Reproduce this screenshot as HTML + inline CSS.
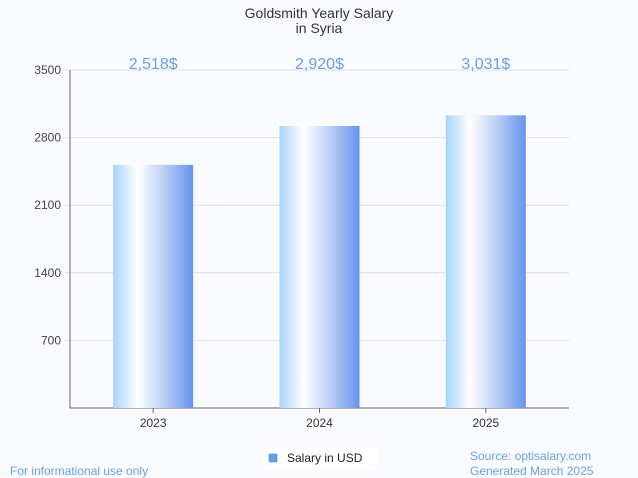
<!DOCTYPE html>
<html><head><meta charset="utf-8"><style>
body{margin:0;background:#f9fbfe;font-family:"Liberation Sans",sans-serif;}
svg{display:block}
</style></head><body>
<svg id="c" width="638" height="478">
<defs><linearGradient id="g" x1="0" x2="1" y1="0" y2="0">
<stop offset="0" stop-color="#a6d4fc"/><stop offset="0.3" stop-color="#ffffff"/><stop offset="0.6" stop-color="#c4d4f4"/><stop offset="1" stop-color="#6594ec"/></linearGradient></defs>
<text x="319" y="18" text-anchor="middle" font-size="14" fill="#333">Goldsmith Yearly Salary</text>
<text x="319" y="33" text-anchor="middle" font-size="14" fill="#333">in Syria</text>
<g id="grid"></g><g id="bars"></g>
<rect x="263" y="446" width="114" height="24" fill="#fff"/>
<rect x="269" y="454" width="8" height="8" fill="#6a9fe8" stroke="#4a78c0" stroke-width="0.5"/>
<text x="287" y="462" font-size="12" fill="#222">Salary in USD</text>
<text x="10" y="475" font-size="12" fill="#6a9fe8">For informational use only</text>
<text x="470" y="460" font-size="12" fill="#6a9fe8">Source: optisalary.com</text>
<text x="470" y="475" font-size="12" fill="#6a9fe8">Generated March 2025</text>
</svg>
<script>
const categories=["2023","2024","2025"];
const values=[2518,2920,3031];
const labels=["2,518$","2,920$","3,031$"];
const ticks=[700,1400,2100,2800,3500];
const NS="http://www.w3.org/2000/svg";
const x0=70,x1=569,yTop=70,yBot=408,maxV=3500;
const y=v=>yBot-(v/maxV)*(yBot-yTop);
const band=(x1-x0)/categories.length;
const xc=i=>x0+band*(i+0.5);
function mk(t,a,p){const e=document.createElementNS(NS,t);for(const k in a)e.setAttribute(k,a[k]);p.appendChild(e);return e;}
const grid=document.getElementById('grid'),bars=document.getElementById('bars');
ticks.forEach(t=>{
 const l=mk('line',{x1:x0-5,x2:x1,y1:y(t),y2:y(t),stroke:'#e0e0e0'},grid);
 
 
 const tx=mk('text',{x:x0-9,y:y(t)+4,'text-anchor':'end','font-size':12,fill:'#444'},grid);
 tx.textContent=t;
 
 
});
const ax=mk('path',{d:`M${x0} ${yTop}V${yBot}H${x1}`,stroke:'#666',fill:'none'},grid);


categories.forEach((c,i)=>{
 const r=mk('rect',{x:xc(i)-40,y:y(values[i]),width:80,height:yBot-y(values[i]),fill:'url(#g)'},bars);
 
 
 const v=mk('text',{x:xc(i),y:69,'text-anchor':'middle','font-size':16,fill:'#6a9fe8'},bars);
 v.textContent=labels[i];
 
 
 const t=mk('line',{x1:xc(i),x2:xc(i),y1:yBot,y2:yBot+5,stroke:'#666'},bars);
 
 
 const xl=mk('text',{x:xc(i),y:427,'text-anchor':'middle','font-size':12,fill:'#333'},bars);
 xl.textContent=c;
 
 
});
</script>
</body></html>
